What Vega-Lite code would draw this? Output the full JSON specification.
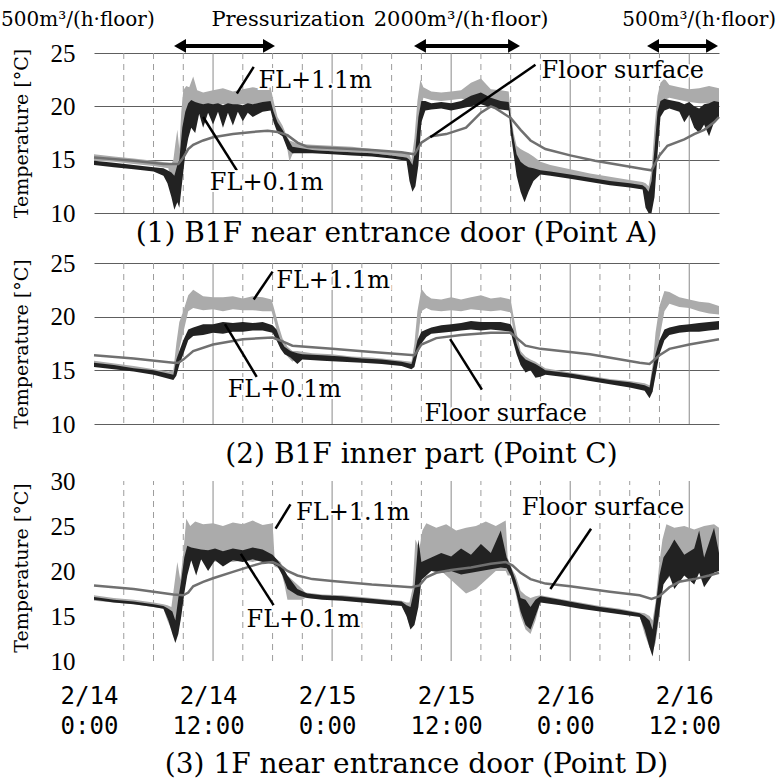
{
  "$schema": "https://vega.github.io/schema/vega-lite/v6.json",
  "background": "white",
  "padding": {"left": 0, "top": 8, "right": 0, "bottom": 0},
  "bounds": "flush",
  "spacing": 50,
  "config": {
    "view": {"stroke": null},
    "axisY": {"domain": false, "ticks": false, "gridColor": "#5e5e5e", "gridWidth": 1, "labelFont": "Liberation Sans Narrow", "labelFontSize": 25, "labelColor": "black", "labelPadding": 19, "titleFont": "DejaVu Serif", "titleFontSize": 19, "titleFontWeight": "normal", "titleColor": "black", "titlePadding": 19},
    "axisX": {"domain": false, "ticks": false, "grid": false, "labelFont": "DejaVu Sans Mono", "labelFontSize": 24, "labelColor": "black", "labelPadding": 23, "labelLineHeight": 30, "labelFlush": false, "labelOffset": -5},
    "title": {"font": "DejaVu Serif", "fontSize": 28, "fontWeight": "normal", "color": "black", "orient": "bottom", "frame": "group", "anchor": "middle"}
  },
  "datasets": {
    "vgrid": [
      {"t":3,"m":0},{"t":6,"m":0},{"t":9,"m":0},{"t":12,"m":1},{"t":15,"m":0},{"t":18,"m":0},{"t":21,"m":0},{"t":24,"m":1},{"t":27,"m":0},{"t":30,"m":0},{"t":33,"m":0},{"t":36,"m":1},{"t":39,"m":0},{"t":42,"m":0},{"t":45,"m":0},{"t":48,"m":1},{"t":51,"m":0},{"t":54,"m":0},{"t":57,"m":0},{"t":60,"m":1}
    ],
    "band": [
      {"p":1,"s":"A","t":0,"lo":14.9,"hi":15.5},{"p":1,"s":"A","t":2,"lo":14.8,"hi":15.3},{"p":1,"s":"A","t":4,"lo":14.6,"hi":15.1},{"p":1,"s":"A","t":6,"lo":14.4,"hi":14.9},{"p":1,"s":"A","t":7.5,"lo":14.2,"hi":14.7},{"p":1,"s":"A","t":7.8,"lo":12.5,"hi":14.6},{"p":1,"s":"A","t":8.0,"lo":11.5,"hi":15.0},{"p":1,"s":"A","t":8.2,"lo":12.0,"hi":16.5},{"p":1,"s":"A","t":8.4,"lo":12.5,"hi":17.8},{"p":1,"s":"A","t":8.6,"lo":11.0,"hi":16.0},{"p":1,"s":"A","t":8.8,"lo":14.0,"hi":19.5},{"p":1,"s":"A","t":9.0,"lo":17.0,"hi":21.5},{"p":1,"s":"A","t":9.3,"lo":19.5,"hi":21.9},{"p":1,"s":"A","t":9.6,"lo":20.0,"hi":21.8},{"p":1,"s":"A","t":10,"lo":20.1,"hi":22.8},{"p":1,"s":"A","t":10.4,"lo":20.0,"hi":21.5},{"p":1,"s":"A","t":11,"lo":20.0,"hi":21.3},{"p":1,"s":"A","t":12,"lo":20.1,"hi":21.5},{"p":1,"s":"A","t":13,"lo":20.2,"hi":21.7},{"p":1,"s":"A","t":14,"lo":20.1,"hi":21.4},{"p":1,"s":"A","t":15,"lo":20.2,"hi":21.6},{"p":1,"s":"A","t":16,"lo":20.2,"hi":21.8},{"p":1,"s":"A","t":17,"lo":20.3,"hi":21.6},{"p":1,"s":"A","t":17.8,"lo":20.2,"hi":21.8},{"p":1,"s":"A","t":18.1,"lo":19.0,"hi":20.5},{"p":1,"s":"A","t":18.5,"lo":18.0,"hi":19.0},{"p":1,"s":"A","t":19.0,"lo":17.5,"hi":18.2},{"p":1,"s":"A","t":19.4,"lo":16.5,"hi":17.3},{"p":1,"s":"A","t":19.7,"lo":14.8,"hi":16.8},{"p":1,"s":"A","t":20.0,"lo":15.5,"hi":16.7},{"p":1,"s":"A","t":20.5,"lo":15.9,"hi":16.5},{"p":1,"s":"A","t":22,"lo":15.9,"hi":16.4},{"p":1,"s":"A","t":24,"lo":15.8,"hi":16.3},{"p":1,"s":"A","t":26,"lo":15.7,"hi":16.2},{"p":1,"s":"A","t":28,"lo":15.6,"hi":16.0},{"p":1,"s":"A","t":30,"lo":15.4,"hi":15.8},{"p":1,"s":"A","t":31.5,"lo":15.2,"hi":15.6},{"p":1,"s":"A","t":31.8,"lo":13.5,"hi":15.5},{"p":1,"s":"A","t":32.0,"lo":12.5,"hi":15.0},{"p":1,"s":"A","t":32.3,"lo":13.0,"hi":17.0},{"p":1,"s":"A","t":32.6,"lo":15.0,"hi":20.5},{"p":1,"s":"A","t":32.9,"lo":19.5,"hi":22.5},{"p":1,"s":"A","t":33.2,"lo":20.8,"hi":21.8},{"p":1,"s":"A","t":34,"lo":20.6,"hi":21.4},{"p":1,"s":"A","t":35,"lo":20.5,"hi":21.3},{"p":1,"s":"A","t":36,"lo":20.6,"hi":21.4},{"p":1,"s":"A","t":37,"lo":20.7,"hi":21.5},{"p":1,"s":"A","t":38,"lo":20.6,"hi":22.2},{"p":1,"s":"A","t":39,"lo":20.8,"hi":22.6},{"p":1,"s":"A","t":40,"lo":20.4,"hi":21.6},{"p":1,"s":"A","t":41,"lo":20.3,"hi":21.5},{"p":1,"s":"A","t":41.8,"lo":20.2,"hi":21.4},{"p":1,"s":"A","t":42.0,"lo":18.0,"hi":19.5},{"p":1,"s":"A","t":42.3,"lo":16.5,"hi":17.5},{"p":1,"s":"A","t":42.6,"lo":14.5,"hi":16.3},{"p":1,"s":"A","t":43.0,"lo":12.5,"hi":16.0},{"p":1,"s":"A","t":43.4,"lo":11.5,"hi":15.8},{"p":1,"s":"A","t":43.8,"lo":13.0,"hi":15.6},{"p":1,"s":"A","t":44.3,"lo":13.5,"hi":15.3},{"p":1,"s":"A","t":45.0,"lo":13.8,"hi":14.8},{"p":1,"s":"A","t":46,"lo":13.7,"hi":14.5},{"p":1,"s":"A","t":48,"lo":13.4,"hi":14.1},{"p":1,"s":"A","t":50,"lo":13.1,"hi":13.7},{"p":1,"s":"A","t":52,"lo":12.9,"hi":13.4},{"p":1,"s":"A","t":54,"lo":12.7,"hi":13.1},{"p":1,"s":"A","t":55.3,"lo":12.4,"hi":12.9},{"p":1,"s":"A","t":55.6,"lo":11.0,"hi":12.8},{"p":1,"s":"A","t":55.9,"lo":10.0,"hi":12.5},{"p":1,"s":"A","t":56.2,"lo":10.2,"hi":14.0},{"p":1,"s":"A","t":56.5,"lo":13.0,"hi":18.0},{"p":1,"s":"A","t":56.8,"lo":17.5,"hi":21.0},{"p":1,"s":"A","t":57.1,"lo":20.0,"hi":22.2},{"p":1,"s":"A","t":57.5,"lo":20.6,"hi":22.6},{"p":1,"s":"A","t":58,"lo":20.8,"hi":22.0},{"p":1,"s":"A","t":59,"lo":20.6,"hi":21.8},{"p":1,"s":"A","t":60,"lo":20.4,"hi":21.6},{"p":1,"s":"A","t":61,"lo":20.3,"hi":21.7},{"p":1,"s":"A","t":62,"lo":20.3,"hi":21.9},{"p":1,"s":"A","t":63,"lo":20.2,"hi":21.7},

      {"p":1,"s":"B","t":0,"lo":14.5,"hi":14.9},{"p":1,"s":"B","t":2,"lo":14.3,"hi":14.7},{"p":1,"s":"B","t":4,"lo":14.1,"hi":14.5},{"p":1,"s":"B","t":6,"lo":13.9,"hi":14.3},{"p":1,"s":"B","t":7.0,"lo":13.5,"hi":14.2},{"p":1,"s":"B","t":7.4,"lo":12.8,"hi":14.0},{"p":1,"s":"B","t":7.8,"lo":11.5,"hi":13.8},{"p":1,"s":"B","t":8.1,"lo":10.3,"hi":13.5},{"p":1,"s":"B","t":8.4,"lo":11.0,"hi":14.5},{"p":1,"s":"B","t":8.6,"lo":10.5,"hi":15.0},{"p":1,"s":"B","t":8.9,"lo":13.0,"hi":18.0},{"p":1,"s":"B","t":9.2,"lo":15.5,"hi":19.5},{"p":1,"s":"B","t":9.5,"lo":17.0,"hi":20.3},{"p":1,"s":"B","t":9.8,"lo":18.0,"hi":20.6},{"p":1,"s":"B","t":10.2,"lo":17.5,"hi":20.4},{"p":1,"s":"B","t":10.6,"lo":19.3,"hi":20.3},{"p":1,"s":"B","t":11.0,"lo":18.0,"hi":20.2},{"p":1,"s":"B","t":11.5,"lo":19.4,"hi":20.3},{"p":1,"s":"B","t":12.0,"lo":18.3,"hi":20.2},{"p":1,"s":"B","t":12.5,"lo":19.5,"hi":20.3},{"p":1,"s":"B","t":13.0,"lo":18.0,"hi":20.1},{"p":1,"s":"B","t":13.5,"lo":19.4,"hi":20.3},{"p":1,"s":"B","t":14.0,"lo":18.2,"hi":20.2},{"p":1,"s":"B","t":14.5,"lo":19.5,"hi":20.2},{"p":1,"s":"B","t":15.0,"lo":18.6,"hi":20.1},{"p":1,"s":"B","t":15.5,"lo":19.4,"hi":20.3},{"p":1,"s":"B","t":16.0,"lo":19.0,"hi":20.2},{"p":1,"s":"B","t":17.0,"lo":19.5,"hi":20.4},{"p":1,"s":"B","t":17.8,"lo":19.6,"hi":20.5},{"p":1,"s":"B","t":18.1,"lo":18.5,"hi":19.5},{"p":1,"s":"B","t":18.5,"lo":17.5,"hi":18.5},{"p":1,"s":"B","t":19.0,"lo":17.2,"hi":17.8},{"p":1,"s":"B","t":19.5,"lo":16.0,"hi":17.0},{"p":1,"s":"B","t":20.0,"lo":15.6,"hi":16.2},{"p":1,"s":"B","t":22,"lo":15.6,"hi":15.9},{"p":1,"s":"B","t":24,"lo":15.5,"hi":15.8},{"p":1,"s":"B","t":26,"lo":15.4,"hi":15.7},{"p":1,"s":"B","t":28,"lo":15.3,"hi":15.6},{"p":1,"s":"B","t":30,"lo":15.1,"hi":15.4},{"p":1,"s":"B","t":31.5,"lo":14.9,"hi":15.2},{"p":1,"s":"B","t":31.8,"lo":13.0,"hi":15.0},{"p":1,"s":"B","t":32.1,"lo":12.0,"hi":14.5},{"p":1,"s":"B","t":32.4,"lo":12.5,"hi":16.0},{"p":1,"s":"B","t":32.7,"lo":14.5,"hi":19.0},{"p":1,"s":"B","t":33.0,"lo":18.5,"hi":20.5},{"p":1,"s":"B","t":33.4,"lo":19.6,"hi":20.5},{"p":1,"s":"B","t":34,"lo":19.7,"hi":20.3},{"p":1,"s":"B","t":35,"lo":19.8,"hi":20.4},{"p":1,"s":"B","t":36,"lo":19.6,"hi":20.3},{"p":1,"s":"B","t":37,"lo":19.8,"hi":20.5},{"p":1,"s":"B","t":38,"lo":20.0,"hi":21.0},{"p":1,"s":"B","t":39,"lo":20.2,"hi":21.3},{"p":1,"s":"B","t":40,"lo":19.9,"hi":20.8},{"p":1,"s":"B","t":41,"lo":19.7,"hi":20.5},{"p":1,"s":"B","t":41.8,"lo":19.6,"hi":20.4},{"p":1,"s":"B","t":42.0,"lo":17.5,"hi":19.0},{"p":1,"s":"B","t":42.3,"lo":15.5,"hi":17.0},{"p":1,"s":"B","t":42.6,"lo":13.5,"hi":15.5},{"p":1,"s":"B","t":43.0,"lo":12.0,"hi":14.8},{"p":1,"s":"B","t":43.4,"lo":11.0,"hi":14.5},{"p":1,"s":"B","t":43.8,"lo":12.0,"hi":14.3},{"p":1,"s":"B","t":44.3,"lo":13.0,"hi":14.2},{"p":1,"s":"B","t":45.0,"lo":13.6,"hi":14.0},{"p":1,"s":"B","t":46,"lo":13.5,"hi":13.9},{"p":1,"s":"B","t":48,"lo":13.2,"hi":13.6},{"p":1,"s":"B","t":50,"lo":12.9,"hi":13.3},{"p":1,"s":"B","t":52,"lo":12.6,"hi":13.0},{"p":1,"s":"B","t":54,"lo":12.4,"hi":12.8},{"p":1,"s":"B","t":55.3,"lo":12.2,"hi":12.6},{"p":1,"s":"B","t":55.6,"lo":10.5,"hi":12.4},{"p":1,"s":"B","t":55.9,"lo":10.0,"hi":12.0},{"p":1,"s":"B","t":56.2,"lo":10.0,"hi":13.0},{"p":1,"s":"B","t":56.5,"lo":11.5,"hi":16.0},{"p":1,"s":"B","t":56.8,"lo":15.5,"hi":19.5},{"p":1,"s":"B","t":57.1,"lo":19.0,"hi":20.5},{"p":1,"s":"B","t":57.5,"lo":19.6,"hi":20.7},{"p":1,"s":"B","t":58,"lo":19.8,"hi":20.6},{"p":1,"s":"B","t":59,"lo":19.5,"hi":20.4},{"p":1,"s":"B","t":59.5,"lo":18.5,"hi":20.2},{"p":1,"s":"B","t":60,"lo":19.2,"hi":20.4},{"p":1,"s":"B","t":60.5,"lo":18.0,"hi":20.0},{"p":1,"s":"B","t":61,"lo":17.5,"hi":19.8},{"p":1,"s":"B","t":61.5,"lo":18.3,"hi":20.2},{"p":1,"s":"B","t":62,"lo":17.2,"hi":20.3},{"p":1,"s":"B","t":62.5,"lo":18.5,"hi":20.5},{"p":1,"s":"B","t":63,"lo":19.0,"hi":20.4},

      {"p":2,"s":"A","t":0,"lo":15.5,"hi":15.9},{"p":2,"s":"A","t":4,"lo":15.0,"hi":15.4},{"p":2,"s":"A","t":7.5,"lo":14.5,"hi":14.9},{"p":2,"s":"A","t":8.0,"lo":14.3,"hi":15.0},{"p":2,"s":"A","t":8.3,"lo":15.0,"hi":17.5},{"p":2,"s":"A","t":8.6,"lo":17.0,"hi":19.5},{"p":2,"s":"A","t":9.0,"lo":18.5,"hi":20.5},{"p":2,"s":"A","t":9.5,"lo":20.5,"hi":22.0},{"p":2,"s":"A","t":10,"lo":20.8,"hi":22.5},{"p":2,"s":"A","t":11,"lo":20.6,"hi":21.9},{"p":2,"s":"A","t":12,"lo":20.7,"hi":21.8},{"p":2,"s":"A","t":13,"lo":20.5,"hi":21.8},{"p":2,"s":"A","t":14,"lo":20.7,"hi":21.9},{"p":2,"s":"A","t":15,"lo":20.6,"hi":21.7},{"p":2,"s":"A","t":16,"lo":20.6,"hi":21.9},{"p":2,"s":"A","t":17,"lo":20.5,"hi":21.8},{"p":2,"s":"A","t":17.9,"lo":20.5,"hi":21.6},{"p":2,"s":"A","t":18.2,"lo":19.5,"hi":20.6},{"p":2,"s":"A","t":18.6,"lo":18.0,"hi":19.2},{"p":2,"s":"A","t":19.0,"lo":17.0,"hi":18.0},{"p":2,"s":"A","t":19.5,"lo":16.3,"hi":17.2},{"p":2,"s":"A","t":20.0,"lo":15.8,"hi":16.8},{"p":2,"s":"A","t":20.5,"lo":16.2,"hi":16.8},{"p":2,"s":"A","t":22,"lo":16.1,"hi":16.6},{"p":2,"s":"A","t":24,"lo":16.0,"hi":16.5},{"p":2,"s":"A","t":26,"lo":15.9,"hi":16.3},{"p":2,"s":"A","t":28,"lo":15.8,"hi":16.2},{"p":2,"s":"A","t":30,"lo":15.6,"hi":16.0},{"p":2,"s":"A","t":32,"lo":15.3,"hi":15.8},{"p":2,"s":"A","t":32.3,"lo":15.8,"hi":17.5},{"p":2,"s":"A","t":32.6,"lo":17.5,"hi":20.5},{"p":2,"s":"A","t":33.0,"lo":20.5,"hi":22.6},{"p":2,"s":"A","t":33.5,"lo":20.8,"hi":22.0},{"p":2,"s":"A","t":34,"lo":20.6,"hi":21.7},{"p":2,"s":"A","t":35,"lo":20.5,"hi":21.6},{"p":2,"s":"A","t":36,"lo":20.6,"hi":21.8},{"p":2,"s":"A","t":37,"lo":20.5,"hi":21.6},{"p":2,"s":"A","t":38,"lo":20.7,"hi":21.8},{"p":2,"s":"A","t":39,"lo":20.6,"hi":22.0},{"p":2,"s":"A","t":40,"lo":20.5,"hi":21.7},{"p":2,"s":"A","t":41,"lo":20.6,"hi":21.8},{"p":2,"s":"A","t":42.0,"lo":20.4,"hi":21.6},{"p":2,"s":"A","t":42.3,"lo":18.5,"hi":20.0},{"p":2,"s":"A","t":42.6,"lo":16.8,"hi":18.5},{"p":2,"s":"A","t":43.0,"lo":15.5,"hi":16.8},{"p":2,"s":"A","t":43.5,"lo":14.8,"hi":16.3},{"p":2,"s":"A","t":44.0,"lo":15.2,"hi":16.0},{"p":2,"s":"A","t":44.5,"lo":14.8,"hi":15.8},{"p":2,"s":"A","t":45.5,"lo":14.7,"hi":15.2},{"p":2,"s":"A","t":48,"lo":14.4,"hi":14.8},{"p":2,"s":"A","t":50,"lo":14.1,"hi":14.5},{"p":2,"s":"A","t":52,"lo":13.8,"hi":14.2},{"p":2,"s":"A","t":54,"lo":13.5,"hi":14.0},{"p":2,"s":"A","t":55.5,"lo":13.2,"hi":13.8},{"p":2,"s":"A","t":56.0,"lo":12.7,"hi":13.6},{"p":2,"s":"A","t":56.3,"lo":13.0,"hi":15.5},{"p":2,"s":"A","t":56.6,"lo":15.0,"hi":18.5},{"p":2,"s":"A","t":57.0,"lo":18.0,"hi":21.0},{"p":2,"s":"A","t":57.5,"lo":20.5,"hi":22.4},{"p":2,"s":"A","t":58,"lo":21.2,"hi":22.3},{"p":2,"s":"A","t":59,"lo":20.9,"hi":21.8},{"p":2,"s":"A","t":60,"lo":20.8,"hi":21.6},{"p":2,"s":"A","t":61,"lo":20.5,"hi":21.4},{"p":2,"s":"A","t":62,"lo":20.3,"hi":21.3},{"p":2,"s":"A","t":63,"lo":20.2,"hi":21.0},

      {"p":2,"s":"B","t":0,"lo":15.3,"hi":15.7},{"p":2,"s":"B","t":2,"lo":15.1,"hi":15.5},{"p":2,"s":"B","t":4,"lo":14.9,"hi":15.2},{"p":2,"s":"B","t":6,"lo":14.6,"hi":15.0},{"p":2,"s":"B","t":8.0,"lo":14.1,"hi":14.6},{"p":2,"s":"B","t":8.3,"lo":14.5,"hi":16.0},{"p":2,"s":"B","t":8.6,"lo":15.5,"hi":16.8},{"p":2,"s":"B","t":9.0,"lo":16.5,"hi":17.8},{"p":2,"s":"B","t":9.5,"lo":17.8,"hi":18.8},{"p":2,"s":"B","t":10,"lo":18.2,"hi":19.0},{"p":2,"s":"B","t":11,"lo":18.3,"hi":19.3},{"p":2,"s":"B","t":12,"lo":18.5,"hi":19.3},{"p":2,"s":"B","t":13,"lo":18.4,"hi":19.5},{"p":2,"s":"B","t":14,"lo":18.6,"hi":19.4},{"p":2,"s":"B","t":15,"lo":18.6,"hi":19.5},{"p":2,"s":"B","t":16,"lo":18.7,"hi":19.4},{"p":2,"s":"B","t":17,"lo":18.7,"hi":19.5},{"p":2,"s":"B","t":18.0,"lo":18.5,"hi":19.2},{"p":2,"s":"B","t":18.4,"lo":17.8,"hi":18.8},{"p":2,"s":"B","t":18.8,"lo":17.0,"hi":17.8},{"p":2,"s":"B","t":19.2,"lo":16.5,"hi":17.2},{"p":2,"s":"B","t":19.8,"lo":16.2,"hi":16.8},{"p":2,"s":"B","t":20.5,"lo":15.6,"hi":16.6},{"p":2,"s":"B","t":21,"lo":16.0,"hi":16.5},{"p":2,"s":"B","t":23,"lo":15.9,"hi":16.4},{"p":2,"s":"B","t":25,"lo":15.8,"hi":16.3},{"p":2,"s":"B","t":27,"lo":15.7,"hi":16.1},{"p":2,"s":"B","t":29,"lo":15.6,"hi":16.0},{"p":2,"s":"B","t":31,"lo":15.4,"hi":15.8},{"p":2,"s":"B","t":32.0,"lo":15.1,"hi":15.6},{"p":2,"s":"B","t":32.3,"lo":15.3,"hi":16.5},{"p":2,"s":"B","t":32.6,"lo":16.5,"hi":17.8},{"p":2,"s":"B","t":33.0,"lo":17.5,"hi":18.6},{"p":2,"s":"B","t":33.5,"lo":18.1,"hi":18.8},{"p":2,"s":"B","t":34,"lo":18.4,"hi":19.0},{"p":2,"s":"B","t":35,"lo":18.5,"hi":19.2},{"p":2,"s":"B","t":36,"lo":18.6,"hi":19.3},{"p":2,"s":"B","t":37,"lo":18.7,"hi":19.4},{"p":2,"s":"B","t":38,"lo":18.8,"hi":19.6},{"p":2,"s":"B","t":39,"lo":18.7,"hi":19.5},{"p":2,"s":"B","t":40,"lo":18.8,"hi":19.5},{"p":2,"s":"B","t":41,"lo":18.7,"hi":19.5},{"p":2,"s":"B","t":42.0,"lo":18.6,"hi":19.3},{"p":2,"s":"B","t":42.3,"lo":17.5,"hi":18.7},{"p":2,"s":"B","t":42.6,"lo":16.5,"hi":17.5},{"p":2,"s":"B","t":43.0,"lo":15.5,"hi":16.5},{"p":2,"s":"B","t":43.5,"lo":14.8,"hi":16.0},{"p":2,"s":"B","t":44.0,"lo":15.0,"hi":15.8},{"p":2,"s":"B","t":44.5,"lo":14.3,"hi":15.6},{"p":2,"s":"B","t":45.0,"lo":14.4,"hi":15.3},{"p":2,"s":"B","t":45.5,"lo":14.6,"hi":15.0},{"p":2,"s":"B","t":48,"lo":14.3,"hi":14.7},{"p":2,"s":"B","t":50,"lo":14.0,"hi":14.4},{"p":2,"s":"B","t":52,"lo":13.7,"hi":14.1},{"p":2,"s":"B","t":54,"lo":13.4,"hi":13.9},{"p":2,"s":"B","t":55.5,"lo":13.1,"hi":13.6},{"p":2,"s":"B","t":56.0,"lo":12.4,"hi":13.4},{"p":2,"s":"B","t":56.3,"lo":13.0,"hi":15.0},{"p":2,"s":"B","t":56.6,"lo":14.5,"hi":16.5},{"p":2,"s":"B","t":57.0,"lo":16.5,"hi":17.8},{"p":2,"s":"B","t":57.5,"lo":17.8,"hi":18.8},{"p":2,"s":"B","t":58,"lo":18.3,"hi":19.0},{"p":2,"s":"B","t":59,"lo":18.5,"hi":19.2},{"p":2,"s":"B","t":60,"lo":18.6,"hi":19.3},{"p":2,"s":"B","t":61,"lo":18.6,"hi":19.4},{"p":2,"s":"B","t":62,"lo":18.7,"hi":19.5},{"p":2,"s":"B","t":63,"lo":18.8,"hi":19.6},

      {"p":3,"s":"A","t":0,"lo":16.7,"hi":17.3},{"p":3,"s":"A","t":2,"lo":16.5,"hi":17.0},{"p":3,"s":"A","t":4,"lo":16.3,"hi":16.8},{"p":3,"s":"A","t":6,"lo":16.0,"hi":16.5},{"p":3,"s":"A","t":7.0,"lo":15.8,"hi":16.3},{"p":3,"s":"A","t":7.4,"lo":14.5,"hi":16.2},{"p":3,"s":"A","t":7.8,"lo":13.5,"hi":16.0},{"p":3,"s":"A","t":8.1,"lo":14.0,"hi":18.5},{"p":3,"s":"A","t":8.4,"lo":13.0,"hi":21.0},{"p":3,"s":"A","t":8.7,"lo":14.5,"hi":19.0},{"p":3,"s":"A","t":9.0,"lo":17.0,"hi":22.0},{"p":3,"s":"A","t":9.3,"lo":21.0,"hi":25.8},{"p":3,"s":"A","t":9.7,"lo":21.2,"hi":25.0},{"p":3,"s":"A","t":10.2,"lo":21.0,"hi":25.5},{"p":3,"s":"A","t":11,"lo":21.3,"hi":25.2},{"p":3,"s":"A","t":12,"lo":21.0,"hi":25.3},{"p":3,"s":"A","t":13,"lo":21.2,"hi":25.0},{"p":3,"s":"A","t":14,"lo":21.0,"hi":25.4},{"p":3,"s":"A","t":15,"lo":21.2,"hi":25.2},{"p":3,"s":"A","t":16,"lo":21.0,"hi":25.6},{"p":3,"s":"A","t":17,"lo":21.3,"hi":25.1},{"p":3,"s":"A","t":18.0,"lo":21.0,"hi":25.3},{"p":3,"s":"A","t":18.2,"lo":20.5,"hi":21.5},{"p":3,"s":"A","t":18.8,"lo":20.2,"hi":21.0},{"p":3,"s":"A","t":19.2,"lo":18.5,"hi":20.0},{"p":3,"s":"A","t":19.5,"lo":16.8,"hi":19.5},{"p":3,"s":"A","t":21.0,"lo":16.8,"hi":18.0},{"p":3,"s":"A","t":21.3,"lo":17.0,"hi":17.6},{"p":3,"s":"A","t":23,"lo":16.9,"hi":17.4},{"p":3,"s":"A","t":25,"lo":16.8,"hi":17.3},{"p":3,"s":"A","t":27,"lo":16.6,"hi":17.1},{"p":3,"s":"A","t":29,"lo":16.4,"hi":16.9},{"p":3,"s":"A","t":31,"lo":16.2,"hi":16.7},{"p":3,"s":"A","t":31.5,"lo":15.0,"hi":16.5},{"p":3,"s":"A","t":31.8,"lo":14.0,"hi":16.5},{"p":3,"s":"A","t":32.1,"lo":15.0,"hi":18.0},{"p":3,"s":"A","t":32.4,"lo":14.5,"hi":23.5},{"p":3,"s":"A","t":32.8,"lo":17.5,"hi":22.5},{"p":3,"s":"A","t":33.1,"lo":19.5,"hi":24.5},{"p":3,"s":"A","t":33.5,"lo":20.0,"hi":25.3},{"p":3,"s":"A","t":34.5,"lo":20.5,"hi":24.8},{"p":3,"s":"A","t":35.5,"lo":19.5,"hi":25.2},{"p":3,"s":"A","t":36.5,"lo":18.5,"hi":24.5},{"p":3,"s":"A","t":37.5,"lo":17.5,"hi":24.8},{"p":3,"s":"A","t":38.5,"lo":18.0,"hi":25.0},{"p":3,"s":"A","t":39.5,"lo":19.0,"hi":25.5},{"p":3,"s":"A","t":40.5,"lo":20.0,"hi":25.0},{"p":3,"s":"A","t":41.5,"lo":20.0,"hi":25.6},{"p":3,"s":"A","t":41.7,"lo":19.5,"hi":21.5},{"p":3,"s":"A","t":42.0,"lo":19.5,"hi":20.5},{"p":3,"s":"A","t":42.5,"lo":17.5,"hi":19.5},{"p":3,"s":"A","t":43.0,"lo":15.0,"hi":17.8},{"p":3,"s":"A","t":43.5,"lo":13.5,"hi":17.3},{"p":3,"s":"A","t":44.0,"lo":13.0,"hi":17.0},{"p":3,"s":"A","t":44.5,"lo":14.5,"hi":17.2},{"p":3,"s":"A","t":45.0,"lo":16.6,"hi":17.3},{"p":3,"s":"A","t":47,"lo":16.3,"hi":16.9},{"p":3,"s":"A","t":49,"lo":15.9,"hi":16.5},{"p":3,"s":"A","t":51,"lo":15.6,"hi":16.1},{"p":3,"s":"A","t":53,"lo":15.3,"hi":15.8},{"p":3,"s":"A","t":55,"lo":15.0,"hi":15.4},{"p":3,"s":"A","t":55.5,"lo":13.0,"hi":15.3},{"p":3,"s":"A","t":56.0,"lo":11.5,"hi":15.0},{"p":3,"s":"A","t":56.3,"lo":11.0,"hi":14.5},{"p":3,"s":"A","t":56.6,"lo":12.0,"hi":16.5},{"p":3,"s":"A","t":57.0,"lo":15.0,"hi":21.0},{"p":3,"s":"A","t":57.3,"lo":19.5,"hi":23.5},{"p":3,"s":"A","t":57.7,"lo":19.0,"hi":25.2},{"p":3,"s":"A","t":58.5,"lo":19.8,"hi":24.8},{"p":3,"s":"A","t":59.5,"lo":19.5,"hi":25.0},{"p":3,"s":"A","t":60.5,"lo":20.0,"hi":24.6},{"p":3,"s":"A","t":61.5,"lo":19.8,"hi":25.0},{"p":3,"s":"A","t":62.5,"lo":20.2,"hi":25.2},{"p":3,"s":"A","t":63,"lo":20.0,"hi":24.8},

      {"p":3,"s":"B","t":0,"lo":16.8,"hi":17.1},{"p":3,"s":"B","t":2,"lo":16.5,"hi":16.8},{"p":3,"s":"B","t":4,"lo":16.3,"hi":16.6},{"p":3,"s":"B","t":6,"lo":16.0,"hi":16.3},{"p":3,"s":"B","t":7.0,"lo":15.8,"hi":16.1},{"p":3,"s":"B","t":7.5,"lo":14.5,"hi":15.8},{"p":3,"s":"B","t":7.9,"lo":13.0,"hi":15.5},{"p":3,"s":"B","t":8.2,"lo":12.0,"hi":14.5},{"p":3,"s":"B","t":8.5,"lo":13.0,"hi":17.0},{"p":3,"s":"B","t":8.8,"lo":15.0,"hi":19.0},{"p":3,"s":"B","t":9.1,"lo":17.5,"hi":21.5},{"p":3,"s":"B","t":9.4,"lo":19.5,"hi":22.8},{"p":3,"s":"B","t":9.8,"lo":21.2,"hi":22.6},{"p":3,"s":"B","t":10.3,"lo":19.5,"hi":22.5},{"p":3,"s":"B","t":10.8,"lo":21.3,"hi":22.4},{"p":3,"s":"B","t":11.5,"lo":20.0,"hi":22.3},{"p":3,"s":"B","t":12.2,"lo":21.2,"hi":22.5},{"p":3,"s":"B","t":13,"lo":20.5,"hi":22.2},{"p":3,"s":"B","t":14,"lo":21.2,"hi":22.5},{"p":3,"s":"B","t":15,"lo":21.0,"hi":22.3},{"p":3,"s":"B","t":16,"lo":21.3,"hi":22.6},{"p":3,"s":"B","t":17,"lo":21.0,"hi":22.4},{"p":3,"s":"B","t":18,"lo":20.8,"hi":21.8},{"p":3,"s":"B","t":18.5,"lo":20.5,"hi":21.2},{"p":3,"s":"B","t":19.0,"lo":19.5,"hi":20.5},{"p":3,"s":"B","t":19.5,"lo":18.0,"hi":19.5},{"p":3,"s":"B","t":20.5,"lo":17.3,"hi":18.0},{"p":3,"s":"B","t":21.5,"lo":17.0,"hi":17.5},{"p":3,"s":"B","t":23,"lo":16.8,"hi":17.3},{"p":3,"s":"B","t":25,"lo":16.7,"hi":17.2},{"p":3,"s":"B","t":27,"lo":16.5,"hi":17.0},{"p":3,"s":"B","t":29,"lo":16.3,"hi":16.8},{"p":3,"s":"B","t":31,"lo":16.1,"hi":16.6},{"p":3,"s":"B","t":31.5,"lo":15.0,"hi":16.2},{"p":3,"s":"B","t":31.9,"lo":13.5,"hi":16.0},{"p":3,"s":"B","t":32.3,"lo":14.0,"hi":18.0},{"p":3,"s":"B","t":32.7,"lo":16.0,"hi":23.5},{"p":3,"s":"B","t":33.0,"lo":19.0,"hi":21.0},{"p":3,"s":"B","t":34,"lo":20.0,"hi":21.5},{"p":3,"s":"B","t":35,"lo":19.8,"hi":22.0},{"p":3,"s":"B","t":36,"lo":20.0,"hi":21.6},{"p":3,"s":"B","t":37,"lo":19.6,"hi":22.5},{"p":3,"s":"B","t":38,"lo":19.8,"hi":21.8},{"p":3,"s":"B","t":39,"lo":20.0,"hi":23.0},{"p":3,"s":"B","t":40,"lo":20.2,"hi":22.0},{"p":3,"s":"B","t":41,"lo":20.4,"hi":24.5},{"p":3,"s":"B","t":41.6,"lo":20.3,"hi":21.5},{"p":3,"s":"B","t":42.0,"lo":19.5,"hi":20.5},{"p":3,"s":"B","t":42.5,"lo":17.8,"hi":19.0},{"p":3,"s":"B","t":43.0,"lo":15.5,"hi":17.0},{"p":3,"s":"B","t":43.5,"lo":14.0,"hi":16.8},{"p":3,"s":"B","t":44.0,"lo":13.5,"hi":16.0},{"p":3,"s":"B","t":44.5,"lo":15.0,"hi":16.8},{"p":3,"s":"B","t":45.0,"lo":16.5,"hi":17.2},{"p":3,"s":"B","t":47,"lo":16.2,"hi":16.8},{"p":3,"s":"B","t":49,"lo":15.8,"hi":16.4},{"p":3,"s":"B","t":51,"lo":15.5,"hi":16.0},{"p":3,"s":"B","t":53,"lo":15.2,"hi":15.7},{"p":3,"s":"B","t":55,"lo":14.9,"hi":15.3},{"p":3,"s":"B","t":55.5,"lo":13.5,"hi":15.0},{"p":3,"s":"B","t":56.0,"lo":11.5,"hi":14.5},{"p":3,"s":"B","t":56.3,"lo":10.5,"hi":13.5},{"p":3,"s":"B","t":56.6,"lo":12.5,"hi":16.0},{"p":3,"s":"B","t":57.0,"lo":15.5,"hi":19.5},{"p":3,"s":"B","t":57.4,"lo":18.5,"hi":21.5},{"p":3,"s":"B","t":58,"lo":19.5,"hi":22.5},{"p":3,"s":"B","t":58.5,"lo":18.0,"hi":23.5},{"p":3,"s":"B","t":59.5,"lo":19.5,"hi":21.8},{"p":3,"s":"B","t":60.5,"lo":18.5,"hi":22.5},{"p":3,"s":"B","t":61,"lo":19.8,"hi":24.5},{"p":3,"s":"B","t":61.5,"lo":18.2,"hi":21.5},{"p":3,"s":"B","t":62.5,"lo":19.8,"hi":24.8},{"p":3,"s":"B","t":63,"lo":20.0,"hi":22.0}
    ],
    "floor": [
      {"p":1,"t":0,"v":15.2},{"p":1,"t":4,"v":14.9},{"p":1,"t":7,"v":14.6},{"p":1,"t":8.5,"v":14.6},{"p":1,"t":9.0,"v":15.2},{"p":1,"t":9.5,"v":16.0},{"p":1,"t":10,"v":16.4},{"p":1,"t":11,"v":16.8},{"p":1,"t":12,"v":17.1},{"p":1,"t":14,"v":17.4},{"p":1,"t":16,"v":17.6},{"p":1,"t":17.5,"v":17.7},{"p":1,"t":18.5,"v":17.6},{"p":1,"t":19.5,"v":17.3},{"p":1,"t":20.5,"v":16.6},{"p":1,"t":21.5,"v":16.2},{"p":1,"t":24,"v":16.1},{"p":1,"t":28,"v":15.9},{"p":1,"t":31,"v":15.7},{"p":1,"t":32.3,"v":15.5},{"p":1,"t":33,"v":16.6},{"p":1,"t":34,"v":17.2},{"p":1,"t":35.5,"v":17.4},{"p":1,"t":37.5,"v":18.0},{"p":1,"t":39,"v":19.4},{"p":1,"t":40,"v":20.0},{"p":1,"t":40.5,"v":19.8},{"p":1,"t":42,"v":18.9},{"p":1,"t":43,"v":17.8},{"p":1,"t":44,"v":16.8},{"p":1,"t":45.5,"v":16.0},{"p":1,"t":48,"v":15.4},{"p":1,"t":50.5,"v":14.9},{"p":1,"t":53,"v":14.5},{"p":1,"t":55.5,"v":14.1},{"p":1,"t":56.2,"v":14.0},{"p":1,"t":57,"v":15.4},{"p":1,"t":57.8,"v":16.3},{"p":1,"t":59.5,"v":16.9},{"p":1,"t":60.5,"v":17.4},{"p":1,"t":61.5,"v":17.8},{"p":1,"t":62.5,"v":18.5},{"p":1,"t":63,"v":19.0},
      {"p":2,"t":0,"v":16.4},{"p":2,"t":4,"v":16.1},{"p":2,"t":8,"v":15.7},{"p":2,"t":8.5,"v":15.7},{"p":2,"t":9,"v":16.0},{"p":2,"t":10,"v":16.8},{"p":2,"t":12,"v":17.4},{"p":2,"t":15,"v":17.9},{"p":2,"t":18,"v":18.05},{"p":2,"t":19,"v":17.7},{"p":2,"t":20,"v":17.3},{"p":2,"t":24,"v":17.0},{"p":2,"t":28,"v":16.7},{"p":2,"t":32.3,"v":16.4},{"p":2,"t":33,"v":17.4},{"p":2,"t":34.5,"v":18.0},{"p":2,"t":37,"v":18.3},{"p":2,"t":40,"v":18.5},{"p":2,"t":42,"v":18.5},{"p":2,"t":43.5,"v":17.3},{"p":2,"t":45,"v":17.0},{"p":2,"t":50,"v":16.5},{"p":2,"t":55,"v":15.7},{"p":2,"t":56,"v":15.6},{"p":2,"t":57,"v":16.4},{"p":2,"t":58,"v":17.0},{"p":2,"t":60,"v":17.4},{"p":2,"t":63,"v":17.9},
      {"p":3,"t":0,"v":18.4},{"p":3,"t":2,"v":18.2},{"p":3,"t":4,"v":18.0},{"p":3,"t":6,"v":17.7},{"p":3,"t":8,"v":17.4},{"p":3,"t":9,"v":17.3},{"p":3,"t":9.5,"v":17.6},{"p":3,"t":10,"v":18.3},{"p":3,"t":11,"v":18.8},{"p":3,"t":12,"v":19.2},{"p":3,"t":14,"v":19.9},{"p":3,"t":16,"v":20.6},{"p":3,"t":17,"v":20.9},{"p":3,"t":18,"v":21.0},{"p":3,"t":18.8,"v":20.6},{"p":3,"t":19.5,"v":20.0},{"p":3,"t":20.5,"v":19.5},{"p":3,"t":22,"v":19.1},{"p":3,"t":24,"v":18.9},{"p":3,"t":28,"v":18.5},{"p":3,"t":32,"v":18.2},{"p":3,"t":32.8,"v":18.4},{"p":3,"t":33.5,"v":19.3},{"p":3,"t":34.5,"v":19.8},{"p":3,"t":36,"v":20.1},{"p":3,"t":38,"v":20.4},{"p":3,"t":40,"v":20.8},{"p":3,"t":41.5,"v":21.0},{"p":3,"t":42.2,"v":20.6},{"p":3,"t":43,"v":19.8},{"p":3,"t":44,"v":19.1},{"p":3,"t":45.5,"v":18.6},{"p":3,"t":48,"v":18.3},{"p":3,"t":52,"v":17.7},{"p":3,"t":55,"v":17.3},{"p":3,"t":56.2,"v":16.9},{"p":3,"t":57,"v":17.2},{"p":3,"t":58,"v":18.2},{"p":3,"t":59,"v":18.8},{"p":3,"t":60.5,"v":19.1},{"p":3,"t":62,"v":19.5},{"p":3,"t":63,"v":19.8}
    ],
    "lab": [
      {"p":1,"t":22.3,"v":22.4,"text":"FL+1.1m"},{"p":1,"t":17.4,"v":12.8,"text":"FL+0.1m"},{"p":1,"t":53.3,"v":23.3,"text":"Floor surface"},
      {"p":2,"t":24.1,"v":23.3,"text":"FL+1.1m"},{"p":2,"t":19.2,"v":13.2,"text":"FL+0.1m"},{"p":2,"t":41.5,"v":10.9,"text":"Floor surface"},
      {"p":3,"t":26.1,"v":26.4,"text":"FL+1.1m"},{"p":3,"t":21.1,"v":14.6,"text":"FL+0.1m"},{"p":3,"t":51.3,"v":27.0,"text":"Floor surface"}
    ],
    "lead": [
      {"p":1,"t1":16.1,"v1":23.7,"t2":14.4,"v2":21.2},{"p":1,"t1":11.0,"v1":19.0,"t2":14.4,"v2":14.0},{"p":1,"t1":44.5,"v1":23.9,"t2":33.9,"v2":17.1},
      {"p":2,"t1":18.0,"v1":24.2,"t2":16.1,"v2":21.6},{"p":2,"t1":13.2,"v1":19.3,"t2":16.4,"v2":14.4},{"p":2,"t1":35.9,"v1":17.9,"t2":39.1,"v2":13.2},
      {"p":3,"t1":19.8,"v1":27.4,"t2":18.3,"v2":24.7},{"p":3,"t1":14.8,"v1":21.9,"t2":18.1,"v2":16.2},{"p":3,"t1":50.1,"v1":24.7,"t2":46.0,"v2":18.0}
    ],
    "top": [
      {"t":-9.375,"v":28.1,"a":"L","text":"500m³/(h·floor)"},{"t":19.56,"v":28.1,"a":"C","text":"Pressurization"},{"t":37.0,"v":28.1,"a":"C","text":"2000m³/(h·floor)"},{"t":68.75,"v":28.1,"a":"R","text":"500m³/(h·floor)"}
    ],
    "arrow": [
      {"t1":8.67,"t2":17.64,"v":25.66},{"t1":32.86,"t2":42.34,"v":25.66},{"t1":56.35,"t2":62.3,"v":25.66}
    ],
    "head": [
      {"t":8.67,"v":25.66,"d":"L"},{"t":17.64,"v":25.66,"d":"R"},{"t":32.86,"v":25.66,"d":"L"},{"t":42.34,"v":25.66,"d":"R"},{"t":56.35,"v":25.66,"d":"L"},{"t":62.3,"v":25.66,"d":"R"}
    ]
  },
  "vconcat": [
    {
      "width": 625, "height": 160,
      "title": {"text": "(1) B1F near entrance door  (Point A)", "offset": -6, "dx": -10},
      "layer": [
        {"data": {"name": "vgrid"}, "transform": [{"filter": "datum.m==0"}],
         "mark": {"type": "rule", "color": "#9c9c9c", "strokeWidth": 1, "strokeDash": [6, 5]},
         "encoding": {"x": {"field": "t", "type": "quantitative", "title": null, "axis": null, "scale": {"domain": [0, 63], "nice": false, "zero": false}}}},
        {"data": {"name": "vgrid"}, "transform": [{"filter": "datum.m==1"}],
         "mark": {"type": "rule", "color": "#8a8a8a", "strokeWidth": 1},
         "encoding": {"x": {"field": "t", "type": "quantitative", "title": null, "axis": null}}},
        {"data": {"name": "band"}, "transform": [{"filter": "datum.p==1 && datum.s=='A'"}],
         "mark": {"type": "area", "color": "#ababab"},
         "encoding": {
           "x": {"field": "t", "type": "quantitative", "title": null, "axis": null},
           "y": {"field": "lo", "type": "quantitative", "title": "Temperature [°C]", "scale": {"domain": [10, 25], "nice": false, "zero": false}, "axis": {"values": [10, 15, 20, 25], "title": "Temperature [°C]"}},
           "y2": {"field": "hi"}}},
        {"data": {"name": "band"}, "transform": [{"filter": "datum.p==1 && datum.s=='B'"}],
         "mark": {"type": "area", "color": "#222222"},
         "encoding": {"x": {"field": "t", "type": "quantitative", "title": null, "axis": null}, "y": {"field": "lo", "type": "quantitative", "title": "Temperature [°C]"}, "y2": {"field": "hi"}}},
        {"data": {"name": "floor"}, "transform": [{"filter": "datum.p==1"}],
         "mark": {"type": "line", "color": "#707070", "strokeWidth": 2.5},
         "encoding": {"x": {"field": "t", "type": "quantitative", "title": null, "axis": null}, "y": {"field": "v", "type": "quantitative", "title": "Temperature [°C]"}}},
        {"data": {"name": "lead"}, "transform": [{"filter": "datum.p==1"}],
         "mark": {"type": "rule", "color": "black", "strokeWidth": 2.5},
         "encoding": {"x": {"field": "t1", "type": "quantitative", "title": null, "axis": null}, "y": {"field": "v1", "type": "quantitative", "title": "Temperature [°C]"}, "x2": {"field": "t2"}, "y2": {"field": "v2"}}},
        {"data": {"name": "lab"}, "transform": [{"filter": "datum.p==1"}],
         "mark": {"type": "text", "font": "DejaVu Serif", "fontSize": 24, "color": "white", "stroke": "white", "strokeWidth": 4, "baseline": "middle"},
         "encoding": {"x": {"field": "t", "type": "quantitative", "title": null, "axis": null}, "y": {"field": "v", "type": "quantitative", "title": "Temperature [°C]"}, "text": {"field": "text"}}},
        {"data": {"name": "lab"}, "transform": [{"filter": "datum.p==1"}],
         "mark": {"type": "text", "font": "DejaVu Serif", "fontSize": 24, "color": "black", "baseline": "middle"},
         "encoding": {"x": {"field": "t", "type": "quantitative", "title": null, "axis": null}, "y": {"field": "v", "type": "quantitative", "title": "Temperature [°C]"}, "text": {"field": "text"}}},
        {"data": {"name": "top"}, "transform": [{"filter": "datum.a=='L'"}],
         "mark": {"type": "text", "font": "DejaVu Serif", "fontSize": 20, "color": "black", "baseline": "middle", "align": "left"},
         "encoding": {"x": {"field": "t", "type": "quantitative", "title": null, "axis": null}, "y": {"field": "v", "type": "quantitative", "title": "Temperature [°C]"}, "text": {"field": "text"}}},
        {"data": {"name": "top"}, "transform": [{"filter": "datum.a=='C'"}],
         "mark": {"type": "text", "font": "DejaVu Serif", "fontSize": 21, "color": "black", "baseline": "middle", "align": "center"},
         "encoding": {"x": {"field": "t", "type": "quantitative", "title": null, "axis": null}, "y": {"field": "v", "type": "quantitative", "title": "Temperature [°C]"}, "text": {"field": "text"}}},
        {"data": {"name": "top"}, "transform": [{"filter": "datum.a=='R'"}],
         "mark": {"type": "text", "font": "DejaVu Serif", "fontSize": 20, "color": "black", "baseline": "middle", "align": "right"},
         "encoding": {"x": {"field": "t", "type": "quantitative", "title": null, "axis": null}, "y": {"field": "v", "type": "quantitative", "title": "Temperature [°C]"}, "text": {"field": "text"}}},
        {"data": {"name": "arrow"},
         "mark": {"type": "rule", "color": "black", "strokeWidth": 4},
         "encoding": {"x": {"field": "t1", "type": "quantitative", "title": null, "axis": null}, "x2": {"field": "t2"}, "y": {"field": "v", "type": "quantitative", "title": "Temperature [°C]"}}},
        {"data": {"name": "head"},
         "mark": {"type": "point", "filled": true, "color": "black", "size": 190, "opacity": 1},
         "encoding": {"x": {"field": "t", "type": "quantitative", "title": null, "axis": null}, "y": {"field": "v", "type": "quantitative", "title": "Temperature [°C]"},
                      "shape": {"field": "d", "type": "nominal", "scale": {"domain": ["L", "R"], "range": ["triangle-left", "triangle-right"]}, "legend": null}}},
        {"mark": {"type": "rule", "color": "#b0b0b0", "strokeWidth": 1}, "encoding": {"x": {"datum": 0, "axis": null}, "x2": {"datum": 63}, "y": {"datum": 25}}},
        {"mark": {"type": "rule", "color": "#999999", "strokeWidth": 1}, "encoding": {"x": {"datum": 63, "axis": null}, "y": {"datum": 10}, "y2": {"datum": 25}}},
        {"mark": {"type": "rule", "color": "#606060", "strokeWidth": 1}, "encoding": {"x": {"datum": 0, "axis": null}, "y": {"datum": 10}, "y2": {"datum": 25}}},
        {"mark": {"type": "rule", "color": "#707070", "strokeWidth": 1}, "encoding": {"x": {"datum": 0, "axis": null}, "x2": {"datum": 63}, "y": {"datum": 10}}}
      ]
    },
    {
      "width": 625, "height": 161,
      "title": {"text": "(2) B1F inner part (Point C)", "offset": 4, "dx": 15},
      "layer": [
        {"data": {"name": "vgrid"}, "transform": [{"filter": "datum.m==0"}],
         "mark": {"type": "rule", "color": "#9c9c9c", "strokeWidth": 1, "strokeDash": [6, 5]},
         "encoding": {"x": {"field": "t", "type": "quantitative", "title": null, "axis": null, "scale": {"domain": [0, 63], "nice": false, "zero": false}}}},
        {"data": {"name": "vgrid"}, "transform": [{"filter": "datum.m==1"}],
         "mark": {"type": "rule", "color": "#8a8a8a", "strokeWidth": 1},
         "encoding": {"x": {"field": "t", "type": "quantitative", "title": null, "axis": null}}},
        {"data": {"name": "band"}, "transform": [{"filter": "datum.p==2 && datum.s=='A'"}],
         "mark": {"type": "area", "color": "#ababab"},
         "encoding": {
           "x": {"field": "t", "type": "quantitative", "title": null, "axis": null},
           "y": {"field": "lo", "type": "quantitative", "title": "Temperature [°C]", "scale": {"domain": [10, 25], "nice": false, "zero": false}, "axis": {"values": [10, 15, 20, 25], "title": "Temperature [°C]"}},
           "y2": {"field": "hi"}}},
        {"data": {"name": "band"}, "transform": [{"filter": "datum.p==2 && datum.s=='B'"}],
         "mark": {"type": "area", "color": "#222222"},
         "encoding": {"x": {"field": "t", "type": "quantitative", "title": null, "axis": null}, "y": {"field": "lo", "type": "quantitative", "title": "Temperature [°C]"}, "y2": {"field": "hi"}}},
        {"data": {"name": "floor"}, "transform": [{"filter": "datum.p==2"}],
         "mark": {"type": "line", "color": "#707070", "strokeWidth": 2.5},
         "encoding": {"x": {"field": "t", "type": "quantitative", "title": null, "axis": null}, "y": {"field": "v", "type": "quantitative", "title": "Temperature [°C]"}}},
        {"data": {"name": "lead"}, "transform": [{"filter": "datum.p==2"}],
         "mark": {"type": "rule", "color": "black", "strokeWidth": 2.5},
         "encoding": {"x": {"field": "t1", "type": "quantitative", "title": null, "axis": null}, "y": {"field": "v1", "type": "quantitative", "title": "Temperature [°C]"}, "x2": {"field": "t2"}, "y2": {"field": "v2"}}},
        {"data": {"name": "lab"}, "transform": [{"filter": "datum.p==2"}],
         "mark": {"type": "text", "font": "DejaVu Serif", "fontSize": 24, "color": "white", "stroke": "white", "strokeWidth": 4, "baseline": "middle"},
         "encoding": {"x": {"field": "t", "type": "quantitative", "title": null, "axis": null}, "y": {"field": "v", "type": "quantitative", "title": "Temperature [°C]"}, "text": {"field": "text"}}},
        {"data": {"name": "lab"}, "transform": [{"filter": "datum.p==2"}],
         "mark": {"type": "text", "font": "DejaVu Serif", "fontSize": 24, "color": "black", "baseline": "middle"},
         "encoding": {"x": {"field": "t", "type": "quantitative", "title": null, "axis": null}, "y": {"field": "v", "type": "quantitative", "title": "Temperature [°C]"}, "text": {"field": "text"}}},
        {"mark": {"type": "rule", "color": "#b0b0b0", "strokeWidth": 1}, "encoding": {"x": {"datum": 0, "axis": null}, "x2": {"datum": 63}, "y": {"datum": 25}}},
        {"mark": {"type": "rule", "color": "#999999", "strokeWidth": 1}, "encoding": {"x": {"datum": 63, "axis": null}, "y": {"datum": 10}, "y2": {"datum": 25}}},
        {"mark": {"type": "rule", "color": "#606060", "strokeWidth": 1}, "encoding": {"x": {"datum": 0, "axis": null}, "y": {"datum": 10}, "y2": {"datum": 25}}},
        {"mark": {"type": "rule", "color": "#707070", "strokeWidth": 1}, "encoding": {"x": {"datum": 0, "axis": null}, "x2": {"datum": 63}, "y": {"datum": 10}}}
      ]
    },
    {
      "width": 625, "height": 187,
      "title": {"text": "(3) 1F near entrance door (Point D)", "offset": 13, "dx": 10},
      "layer": [
        {"data": {"name": "vgrid"}, "transform": [{"filter": "datum.m==0"}],
         "mark": {"type": "rule", "color": "#9c9c9c", "strokeWidth": 1, "strokeDash": [6, 5]},
         "encoding": {"x": {"field": "t", "type": "quantitative", "title": null, "scale": {"domain": [0, 63], "nice": false, "zero": false},
                 "axis": {"values": [0, 12, 24, 36, 48, 60],
                          "labelExpr": "[datum.value < 24 ? '2/14' : (datum.value < 48 ? '2/15' : '2/16'), datum.value % 24 === 0 ? '0:00' : '12:00']"}},
                      "y": {"datum": 10, "scale": {"domain": [10, 30.778], "nice": false, "zero": false}, "axis": {"values": [10, 15, 20, 25, 30], "title": "Temperature [°C]"}}, "y2": {"datum": 30}}},
        {"data": {"name": "vgrid"}, "transform": [{"filter": "datum.m==1"}],
         "mark": {"type": "rule", "color": "#8a8a8a", "strokeWidth": 1},
         "encoding": {"x": {"field": "t", "type": "quantitative", "title": null}, "y": {"datum": 10}, "y2": {"datum": 30}}},
        {"data": {"name": "band"}, "transform": [{"filter": "datum.p==3 && datum.s=='A'"}],
         "mark": {"type": "area", "color": "#ababab"},
         "encoding": {
           "x": {"field": "t", "type": "quantitative", "title": null},
           "y": {"field": "lo", "type": "quantitative", "title": "Temperature [°C]"},
           "y2": {"field": "hi"}}},
        {"data": {"name": "band"}, "transform": [{"filter": "datum.p==3 && datum.s=='B'"}],
         "mark": {"type": "area", "color": "#222222"},
         "encoding": {"x": {"field": "t", "type": "quantitative", "title": null}, "y": {"field": "lo", "type": "quantitative", "title": "Temperature [°C]"}, "y2": {"field": "hi"}}},
        {"data": {"name": "floor"}, "transform": [{"filter": "datum.p==3"}],
         "mark": {"type": "line", "color": "#707070", "strokeWidth": 2.5},
         "encoding": {"x": {"field": "t", "type": "quantitative", "title": null}, "y": {"field": "v", "type": "quantitative", "title": "Temperature [°C]"}}},
        {"data": {"name": "lead"}, "transform": [{"filter": "datum.p==3"}],
         "mark": {"type": "rule", "color": "black", "strokeWidth": 2.5},
         "encoding": {"x": {"field": "t1", "type": "quantitative", "title": null}, "y": {"field": "v1", "type": "quantitative", "title": "Temperature [°C]"}, "x2": {"field": "t2"}, "y2": {"field": "v2"}}},
        {"data": {"name": "lab"}, "transform": [{"filter": "datum.p==3"}],
         "mark": {"type": "text", "font": "DejaVu Serif", "fontSize": 24, "color": "white", "stroke": "white", "strokeWidth": 4, "baseline": "middle"},
         "encoding": {"x": {"field": "t", "type": "quantitative", "title": null}, "y": {"field": "v", "type": "quantitative", "title": "Temperature [°C]"}, "text": {"field": "text"}}},
        {"data": {"name": "lab"}, "transform": [{"filter": "datum.p==3"}],
         "mark": {"type": "text", "font": "DejaVu Serif", "fontSize": 24, "color": "black", "baseline": "middle"},
         "encoding": {"x": {"field": "t", "type": "quantitative", "title": null}, "y": {"field": "v", "type": "quantitative", "title": "Temperature [°C]"}, "text": {"field": "text"}}},
        {"mark": {"type": "rule", "color": "#b0b0b0", "strokeWidth": 1}, "encoding": {"x": {"datum": 0}, "x2": {"datum": 63}, "y": {"datum": 30}}},
        {"mark": {"type": "rule", "color": "#999999", "strokeWidth": 1}, "encoding": {"x": {"datum": 63}, "y": {"datum": 10}, "y2": {"datum": 30}}},
        {"mark": {"type": "rule", "color": "#606060", "strokeWidth": 1}, "encoding": {"x": {"datum": 0}, "y": {"datum": 10}, "y2": {"datum": 30}}},
        {"mark": {"type": "rule", "color": "#707070", "strokeWidth": 1}, "encoding": {"x": {"datum": 0}, "x2": {"datum": 63}, "y": {"datum": 10}}}
      ]
    }
  ]
}
